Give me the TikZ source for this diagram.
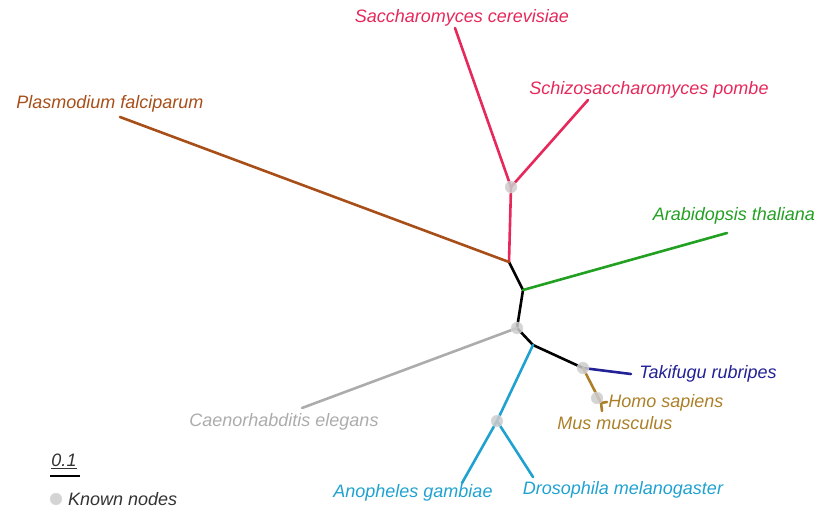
\documentclass[tikz,border=0pt]{standalone}
\usepackage{fontspec}
\setmainfont{Liberation Sans}
\usepackage{tikz}
\usetikzlibrary{positioning}
\definecolor{yeastred}{RGB}{230,40,90}
\definecolor{plasmobrown}{RGB}{168,78,24}
\definecolor{plantgreen}{RGB}{34,160,34}
\definecolor{wormgray}{RGB}{172,172,172}
\definecolor{insectcyan}{RGB}{32,162,208}
\definecolor{fishblue}{RGB}{34,34,150}
\definecolor{mammalgold}{RGB}{172,128,40}
\newcommand{\branchw}{2.6pt}
\newcommand{\knownr}{6pt}

\begin{document}
\begin{tikzpicture}[x=1pt, y=-1pt]
                %\draw[help lines] (0,0) grid[step=50] (820,509);
                \useasboundingbox (0,0) rectangle (820,509);
                \tikzset{branch/.style = {line width = \branchw, line cap = round, line join = round},
                         taxon/.style = {font = \fontsize{18}{20}\selectfont\itshape, inner sep = 0pt},
                         known/.style = {circle, fill = gray!40, draw = gray!25, opacity = 0.85, minimum size = 2*\knownr, inner sep = 0pt}}

                % inner nodes of the tree
                \coordinate (yst) at (511,187);
                \coordinate (r1) at (509,262);
                \coordinate (r2) at (523,290);
                \coordinate (r3) at (517,328);
                \coordinate (r4) at (533,345);
                \coordinate (ins) at (497,421);
                \coordinate (vrt) at (583,368);
                \coordinate (mam) at (601,403);
                % leaves
                \coordinate (sce) at (455,28);
                \coordinate (spo) at (588,100);
                \coordinate (pfa) at (120,117);
                \coordinate (ath) at (727,233);
                \coordinate (cel) at (302,408);
                \coordinate (aga) at (462,483);
                \coordinate (dme) at (533,477);
                \coordinate (tru) at (631,374);
                \coordinate (hsa) at (607,402);
                \coordinate (mmu) at (602,411);

                \draw[branch, black] (r1) -- (r2) -- (r3) -- (r4) -- (vrt);
                \draw[branch, yeastred] (r1) -- (yst) -- (sce);
                \draw[branch, yeastred] (yst) -- (spo);
                \draw[branch, plasmobrown] (r1) -- (pfa);
                \draw[branch, plantgreen] (r2) -- (ath);
                \draw[branch, wormgray] (r3) -- (cel);
                \draw[branch, insectcyan] (r4) -- (ins) -- (aga);
                \draw[branch, insectcyan] (ins) -- (dme);
                \draw[branch, fishblue] (vrt) -- (tru);
                \draw[branch, mammalgold] (vrt) -- (mam) -- (hsa);
                \draw[branch, mammalgold] (mam) -- (mmu);

                \foreach \k in {yst, r3, vrt, ins}
                    \node[known] at (\k) {};
                \node[known] at (597,398) {};

                \node[taxon, text = yeastred] (nsce) at (462,18) {Saccharomyces cerevisiae};
                \node[taxon, text = yeastred] (nspo) at (649,90) {Schizosaccharomyces pombe};
                \node[taxon, text = plasmobrown] (npfa) at (110,104) {Plasmodium falciparum};
                \node[taxon, text = plantgreen] (nath) at (734,216) {Arabidopsis thaliana};
                \node[taxon, text = wormgray] (ncel) at (284,422) {Caenorhabditis elegans};
                \node[taxon, text = insectcyan] (naga) at (413,493) {Anopheles gambiae};
                \node[taxon, text = insectcyan] (ndme) at (623,490) {Drosophila melanogaster};
                \node[taxon, text = fishblue] (ntru) at (708,374) {Takifugu rubripes};
                \node[taxon, text = mammalgold] (nhsa) at (666,403) {Homo sapiens};
                \node[taxon, text = mammalgold] (nmmu) at (615,423) {Mus musculus};

                % scale bar and legend
                \coordinate (sb0) at (50,476);
                \coordinate (sb1) at (80,476);
                \draw[line width = \branchw] (sb0) -- (sb1);
                \node[taxon, text = black!80] (nsb) at (64,461) {\underline{0.1}};
                \node[known] (lgk) at (56,499) {};
                \node[taxon, text = black!80, anchor = west] (nlgk) at (68,499) {Known nodes};
        \end{tikzpicture}
\end{document}
